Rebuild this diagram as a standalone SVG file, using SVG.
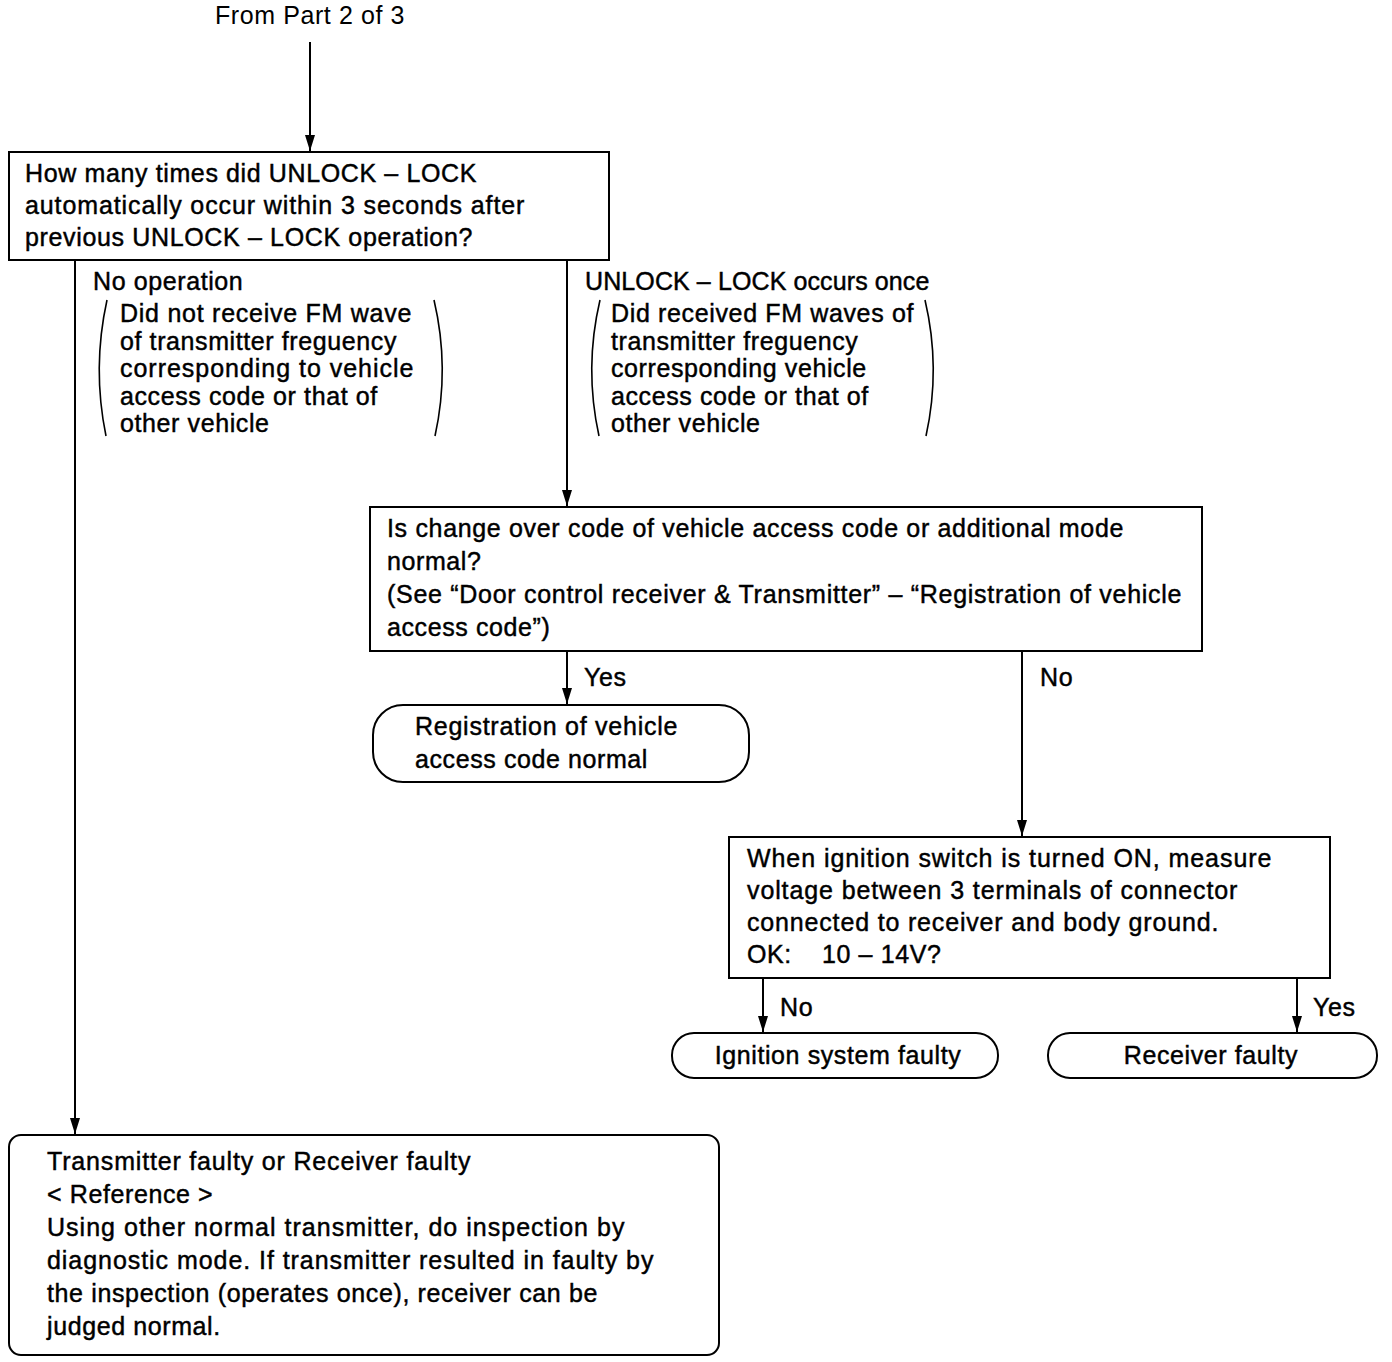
<svg xmlns="http://www.w3.org/2000/svg" width="1392" height="1362" viewBox="0 0 1392 1362">
<defs>
<style>
text{font-family:"Liberation Sans",Arial,sans-serif;font-size:25px;letter-spacing:0.6px;fill:#000;stroke:#000;stroke-width:0.45px;}
text.lt{stroke:none;}
.box{fill:#fff;stroke:#000;stroke-width:2;}
.ln{fill:none;stroke:#000;stroke-width:2;}
.par{fill:none;stroke:#000;stroke-width:1.6;}
</style>
<marker id="arr" markerWidth="16" markerHeight="10" refX="16" refY="5" orient="auto" markerUnits="userSpaceOnUse" viewBox="0 0 16 10">
<path d="M0,0 L16,5 L0,10 Z" fill="#000"/>
</marker>
</defs>
<rect width="1392" height="1362" fill="#fff"/>
<text class="lt" x="310" y="24" text-anchor="middle">From Part 2 of 3</text>
<g id="connectors">
<line class="ln" x1="310" y1="42" x2="310" y2="151" marker-end="url(#arr)"/>
<line class="ln" x1="75" y1="260" x2="75" y2="1134" marker-end="url(#arr)"/>
<line class="ln" x1="567" y1="260" x2="567" y2="506" marker-end="url(#arr)"/>
<line class="ln" x1="567" y1="651" x2="567" y2="704" marker-end="url(#arr)"/>
<line class="ln" x1="1022" y1="651" x2="1022" y2="836" marker-end="url(#arr)"/>
<line class="ln" x1="763" y1="978" x2="763" y2="1032" marker-end="url(#arr)"/>
<line class="ln" x1="1297" y1="978" x2="1297" y2="1032" marker-end="url(#arr)"/>
<text x="93" y="290">No operation</text>
<path class="par" d="M107,300 Q92,368 106,436"/>
<path class="par" d="M434,300 Q450,368 435,436"/>
<text x="120" y="322" textLength="292" lengthAdjust="spacing">Did not receive FM wave</text>
<text x="120" y="350">of transmitter freguency</text>
<text x="120" y="377" textLength="294" lengthAdjust="spacing">corresponding to vehicle</text>
<text x="120" y="405">access code or that of</text>
<text x="120" y="432">other vehicle</text>
<text x="585" y="290" textLength="345" lengthAdjust="spacing">UNLOCK – LOCK occurs once</text>
<path class="par" d="M600,300 Q584,368 599,436"/>
<path class="par" d="M925,300 Q941,368 926,436"/>
<text x="611" y="322" textLength="303" lengthAdjust="spacing">Did received FM waves of</text>
<text x="611" y="350">transmitter freguency</text>
<text x="611" y="377">corresponding vehicle</text>
<text x="611" y="405">access code or that of</text>
<text x="611" y="432">other vehicle</text>
<text x="584" y="686">Yes</text>
<text x="1040" y="686">No</text>
<text x="780" y="1016">No</text>
<text x="1313" y="1016">Yes</text>
</g>
<g id="q1">
<rect class="box" x="9" y="152" width="600" height="108"/>
<text x="25" y="182" textLength="452" lengthAdjust="spacing">How many times did UNLOCK – LOCK</text>
<text x="25" y="214" textLength="500" lengthAdjust="spacing">automatically occur within 3 seconds after</text>
<text x="25" y="246" textLength="448" lengthAdjust="spacing">previous UNLOCK – LOCK operation?</text>
</g>
<g id="q2">
<rect class="box" x="370" y="507" width="832" height="144"/>
<text x="387" y="537" textLength="737" lengthAdjust="spacing">Is change over code of vehicle access code or additional mode</text>
<text x="387" y="570">normal?</text>
<text x="387" y="603" textLength="795" lengthAdjust="spacing">(See “Door control receiver &amp; Transmitter” – “Registration of vehicle</text>
<text x="387" y="636">access code”)</text>
</g>
<g id="t1">
<rect class="box" x="373" y="705" width="376" height="77" rx="30" ry="30"/>
<text x="415" y="735" textLength="263" lengthAdjust="spacing">Registration of vehicle</text>
<text x="415" y="768" textLength="233" lengthAdjust="spacing">access code normal</text>
</g>
<g id="q3">
<rect class="box" x="729" y="837" width="601" height="141"/>
<text x="747" y="867" textLength="525" lengthAdjust="spacing">When ignition switch is turned ON, measure</text>
<text x="747" y="899" textLength="491" lengthAdjust="spacing">voltage between 3 terminals of connector</text>
<text x="747" y="931" textLength="472" lengthAdjust="spacing">connected to receiver and body ground.</text>
<text x="747" y="963" xml:space="preserve">OK:    10 – 14V?</text>
</g>
<g id="t2">
<rect class="box" x="672" y="1033" width="326" height="45" rx="22" ry="22"/>
<text x="838" y="1064" text-anchor="middle">Ignition system faulty</text>
</g>
<g id="t3">
<rect class="box" x="1048" y="1033" width="329" height="45" rx="22" ry="22"/>
<text x="1211" y="1064" text-anchor="middle">Receiver faulty</text>
</g>
<g id="r1">
<rect class="box" x="9" y="1135" width="710" height="220" rx="12" ry="12"/>
<text x="47" y="1170" textLength="424" lengthAdjust="spacing">Transmitter faulty or Receiver faulty</text>
<text x="47" y="1203">&lt; Reference &gt;</text>
<text x="47" y="1236" textLength="578" lengthAdjust="spacing">Using other normal transmitter, do inspection by</text>
<text x="47" y="1269" textLength="607" lengthAdjust="spacing">diagnostic mode. If transmitter resulted in faulty by</text>
<text x="47" y="1302" textLength="551" lengthAdjust="spacing">the inspection (operates once), receiver can be</text>
<text x="47" y="1335">judged normal.</text>
</g>
</svg>
